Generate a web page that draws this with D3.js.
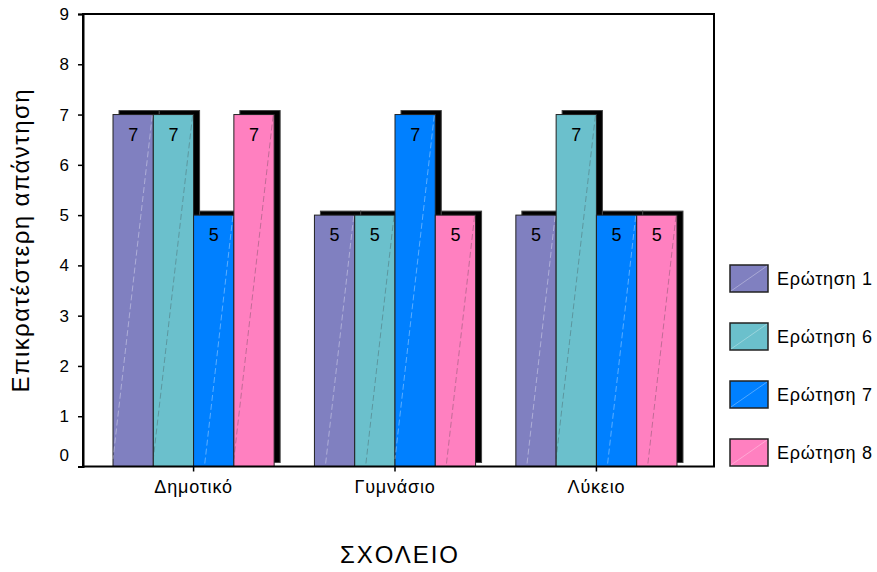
<!DOCTYPE html>
<html>
<head>
<meta charset="utf-8">
<script src="https://cdn.jsdelivr.net/npm/d3@7"></script>
<style>
  html, body { margin: 0; padding: 0; background: #fff; }
  svg { display: block; font-family: Arial, "Liberation Sans", sans-serif; }
</style>
</head>
<body>
<svg id="chart" width="877" height="572"></svg>
<script>
const categories = ["Δημοτικό", "Γυμνάσιο", "Λύκειο"];
const seriesNames = ["Ερώτηση 1", "Ερώτηση 6", "Ερώτηση 7", "Ερώτηση 8"];
const q1 = [7, 5, 5];
const q6 = [7, 5, 7];
const q7 = [5, 7, 5];
const q8 = [7, 5, 5];
const seriesColors = ["#8080C0", "#6BC0CC", "#0080FF", "#FF80C0"];
const yTicks = [0, 1, 2, 3, 4, 5, 6, 7, 8, 9];
const yTitle = "Επικρατέστερη απάντηση";
const xTitle = "ΣΧΟΛΕΙΟ";

const seriesValues = [q1, q6, q7, q8];
const rows = [];
categories.forEach((c, ci) => {
  seriesNames.forEach((s, si) => rows.push({ cat: c, ser: s, si, value: seriesValues[si][ci] }));
});

const svg = d3.select("#chart");
const L = 83, R = 714, T = 14, B = 466.5;

const x0 = d3.scaleBand().domain(categories).range([L, 707]).paddingInner(0.2).paddingOuter(0.149);
const x1 = d3.scaleBand().domain(seriesNames).range([0, x0.bandwidth()]).padding(0);
const y = d3.scaleLinear().domain([0, 9]).range([B, T]);
const color = d3.scaleOrdinal().domain(seriesNames).range(seriesColors);

// shadows
const g = svg.append("g");
g.selectAll("rect.shadow").data(rows).join("rect")
  .attr("class", "shadow")
  .attr("x", d => x0(d.cat) + x1(d.ser) + 6)
  .attr("y", d => y(d.value) - 4)
  .attr("width", x1.bandwidth())
  .attr("height", d => y(0) - y(d.value))
  .attr("fill", "#000")
  .attr("stroke", "#444")
  .attr("stroke-width", 1);

// bars
g.selectAll("rect.bar").data(rows).join("rect")
  .attr("class", "bar")
  .attr("x", d => x0(d.cat) + x1(d.ser))
  .attr("y", d => y(d.value))
  .attr("width", x1.bandwidth())
  .attr("height", d => y(0) - y(d.value))
  .attr("fill", d => color(d.ser))
  .attr("stroke", "#222")
  .attr("stroke-width", 1);

// faint diagonal lines
const slope = 0.117;
g.selectAll("line.diag").data(rows).join("line")
  .attr("class", "diag")
  .each(function(d) {
    const bx = x0(d.cat) + x1(d.ser), w = x1.bandwidth();
    const top = y(d.value), h = y(0) - top;
    const dx = Math.min(w, h * slope), dy = dx / slope;
    d3.select(this)
      .attr("x1", bx + w - 1).attr("y1", top + 1)
      .attr("x2", bx + w - dx).attr("y2", top + dy);
  })
  .attr("stroke", d => d.si === 0 || d.si === 2 ? "rgba(255,255,255,0.45)" : "rgba(60,60,60,0.4)")
  .attr("stroke-width", 0.8)
  .attr("stroke-dasharray", "6,3");

// value labels
g.selectAll("text.val").data(rows).join("text")
  .attr("class", "val")
  .attr("x", d => x0(d.cat) + x1(d.ser) + x1.bandwidth() / 2)
  .attr("y", d => y(d.value) + 26)
  .attr("text-anchor", "middle")
  .attr("font-size", 18)
  .attr("fill", "#000")
  .text(d => d.value);

// frame
svg.append("rect")
  .attr("x", L).attr("y", T).attr("width", R - L).attr("height", B - T)
  .attr("fill", "none").attr("stroke", "#000").attr("stroke-width", 2);

// y axis
const yAxis = svg.append("g").attr("transform", `translate(${L},0)`)
  .call(d3.axisLeft(y).tickValues(yTicks).tickSize(5).tickPadding(9).tickFormat(d3.format("d")));
yAxis.select(".domain").attr("stroke-width", 2);
yAxis.selectAll(".tick line").attr("stroke-width", 1.5);
yAxis.selectAll(".tick text").attr("font-size", 17).attr("font-family", "Arial, 'Liberation Sans', sans-serif").attr("fill", "#000");
yAxis.selectAll(".tick").filter(d => d === 0).select("text").attr("dy", "-0.33em");

// x axis
const xAxis = svg.append("g").attr("transform", `translate(0,${B})`)
  .call(d3.axisBottom(x0).tickSize(5).tickPadding(9));
xAxis.select(".domain").remove();
xAxis.selectAll(".tick line").attr("stroke-width", 1.5);
xAxis.selectAll(".tick text").attr("font-size", 18).attr("letter-spacing", "0.8px")
  .attr("font-family", "Arial, 'Liberation Sans', sans-serif").attr("fill", "#000");

// axis titles
svg.append("text")
  .attr("transform", `translate(29,241) rotate(-90)`)
  .attr("text-anchor", "middle")
  .attr("font-size", 24)
  .attr("textLength", 303)
  .attr("lengthAdjust", "spacing")
  .attr("fill", "#000")
  .text(yTitle);

svg.append("text")
  .attr("x", 399).attr("y", 563)
  .attr("text-anchor", "middle")
  .attr("font-size", 24)
  .attr("textLength", 118)
  .attr("lengthAdjust", "spacing")
  .attr("fill", "#000")
  .text(xTitle);

// legend
const leg = svg.append("g");
const items = leg.selectAll("g").data(seriesNames).join("g")
  .attr("transform", (d, i) => `translate(730,${265 + i * 58})`);
items.append("rect")
  .attr("width", 38).attr("height", 27)
  .attr("fill", d => color(d))
  .attr("stroke", "#222").attr("stroke-width", 1.5);
items.append("line")
  .attr("x1", 1).attr("y1", 26).attr("x2", 37).attr("y2", 1)
  .attr("stroke", "rgba(255,255,255,0.4)").attr("stroke-width", 0.8);
items.append("text")
  .attr("x", 47).attr("y", 14).attr("dy", "0.35em")
  .attr("font-size", 18)
  .attr("textLength", 95)
  .attr("lengthAdjust", "spacing")
  .attr("fill", "#000")
  .text(d => d);
</script>
</body>
</html>
